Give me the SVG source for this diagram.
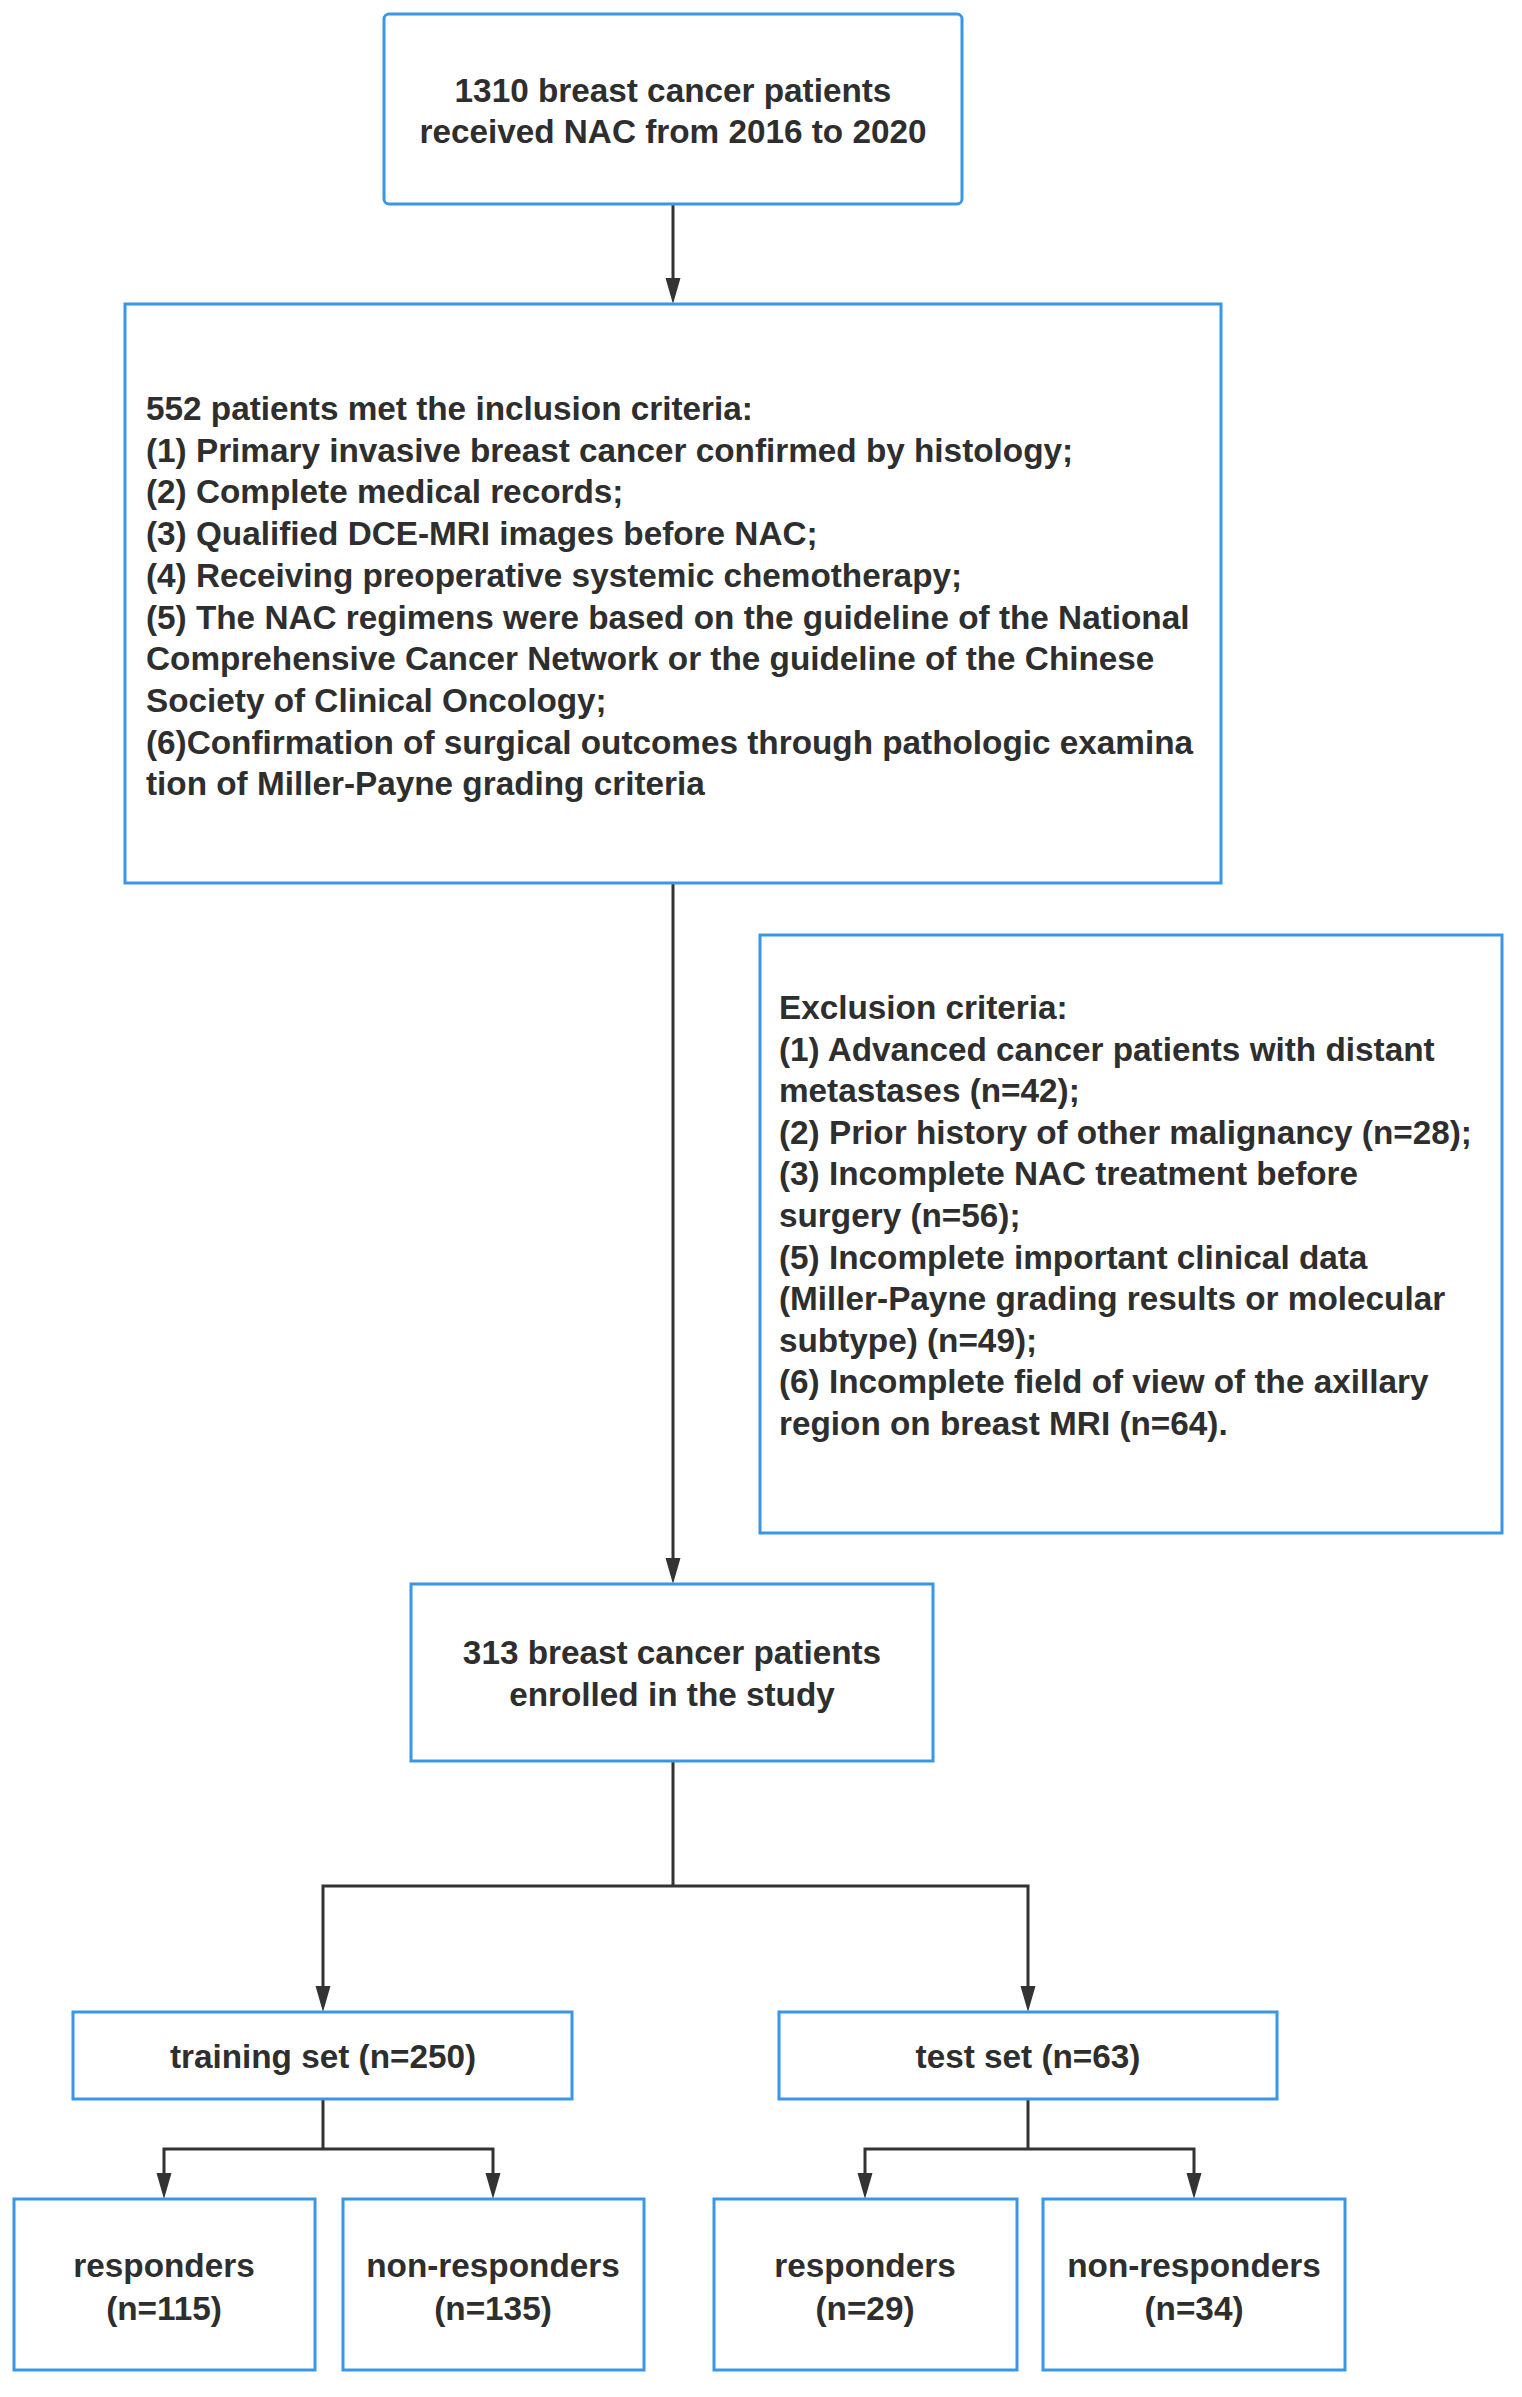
<svg xmlns="http://www.w3.org/2000/svg" width="1522" height="2397" viewBox="0 0 1522 2397">
<defs>
<style>
.box{fill:#fff;stroke:#3a97e6;stroke-width:3}
.t{font-family:"Liberation Sans",Arial,sans-serif;font-size:33.3px;font-weight:bold;fill:#2e2e2e}
.c{text-anchor:middle}
.ln{fill:none;stroke:#333;stroke-width:3}
.ar{fill:#333}
</style>
</defs>
<rect width="1522" height="2397" fill="#fff"/>

<g id="connectors">
<line class="ln" x1="673" y1="204" x2="673" y2="280"/>
<path class="ar" d="M665.5,278 L680.5,278 L673,304 Z"/>
<line class="ln" x1="673" y1="883" x2="673" y2="1560"/>
<path class="ar" d="M665.5,1558 L680.5,1558 L673,1584 Z"/>
<polyline class="ln" points="673,1761 673,1886"/>
<polyline class="ln" points="323,1988 323,1886 1028,1886 1028,1988"/>
<path class="ar" d="M315.5,1986 L330.5,1986 L323,2012 Z"/>
<path class="ar" d="M1020.5,1986 L1035.5,1986 L1028,2012 Z"/>
<line class="ln" x1="323" y1="2099" x2="323" y2="2149"/>
<polyline class="ln" points="164,2175 164,2149 493,2149 493,2175"/>
<path class="ar" d="M156.5,2173 L171.5,2173 L164,2199 Z"/>
<path class="ar" d="M485.5,2173 L500.5,2173 L493,2199 Z"/>
<line class="ln" x1="1028" y1="2099" x2="1028" y2="2149"/>
<polyline class="ln" points="865,2175 865,2149 1194,2149 1194,2175"/>
<path class="ar" d="M857.5,2173 L872.5,2173 L865,2199 Z"/>
<path class="ar" d="M1186.5,2173 L1201.5,2173 L1194,2199 Z"/>
</g>

<g id="start">
<rect class="box" x="384" y="14" width="578" height="190" rx="5"/>
<text class="t c" x="673" y="102">1310 breast cancer patients</text>
<text class="t c" x="673" y="143">received NAC from 2016 to 2020</text>
</g>

<g id="inclusion">
<rect class="box" x="125" y="304" width="1096" height="579"/>
<text class="t" x="146" y="420">552 patients met the inclusion criteria:</text>
<text class="t" x="146" y="461.7">(1) Primary invasive breast cancer confirmed by histology;</text>
<text class="t" x="146" y="503.4">(2) Complete medical records;</text>
<text class="t" x="146" y="545">(3) Qualified DCE-MRI images before NAC;</text>
<text class="t" x="146" y="586.8">(4) Receiving preoperative systemic chemotherapy;</text>
<text class="t" x="146" y="628.5">(5) The NAC regimens were based on the guideline of the National</text>
<text class="t" x="146" y="670.2">Comprehensive Cancer Network or the guideline of the Chinese</text>
<text class="t" x="146" y="711.9">Society of Clinical Oncology;</text>
<text class="t" x="146" y="753.6">(6)Confirmation of surgical outcomes through pathologic examina</text>
<text class="t" x="146" y="795.3">tion of Miller-Payne grading criteria</text>
</g>

<g id="exclusion">
<rect class="box" x="760" y="935" width="742" height="598"/>
<text class="t" x="779" y="1019">Exclusion criteria:</text>
<text class="t" x="779" y="1060.6">(1) Advanced cancer patients with distant</text>
<text class="t" x="779" y="1102.2">metastases (n=42);</text>
<text class="t" x="779" y="1143.8">(2) Prior history of other malignancy (n=28);</text>
<text class="t" x="779" y="1185.4">(3) Incomplete NAC treatment before</text>
<text class="t" x="779" y="1227">surgery (n=56);</text>
<text class="t" x="779" y="1268.6">(5) Incomplete important clinical data</text>
<text class="t" x="779" y="1310.2">(Miller-Payne grading results or molecular</text>
<text class="t" x="779" y="1351.8">subtype) (n=49);</text>
<text class="t" x="779" y="1393.4">(6) Incomplete field of view of the axillary</text>
<text class="t" x="779" y="1435">region on breast MRI (n=64).</text>
</g>

<g id="enrolled">
<rect class="box" x="411" y="1584" width="522" height="177"/>
<text class="t c" x="672" y="1664">313 breast cancer patients</text>
<text class="t c" x="672" y="1706">enrolled in the study</text>
</g>

<g id="training">
<rect class="box" x="73" y="2012" width="499" height="87"/>
<text class="t c" x="323" y="2068">training set (n=250)</text>
</g>

<g id="test">
<rect class="box" x="779" y="2012" width="498" height="87"/>
<text class="t c" x="1028" y="2068">test set (n=63)</text>
</g>

<g id="train-responders">
<rect class="box" x="14" y="2199" width="301" height="171"/>
<text class="t c" x="164" y="2277">responders</text>
<text class="t c" x="164" y="2320">(n=115)</text>
</g>

<g id="train-nonresponders">
<rect class="box" x="343" y="2199" width="301" height="171"/>
<text class="t c" x="493" y="2277">non-responders</text>
<text class="t c" x="493" y="2320">(n=135)</text>
</g>

<g id="test-responders">
<rect class="box" x="714" y="2199" width="303" height="171"/>
<text class="t c" x="865" y="2277">responders</text>
<text class="t c" x="865" y="2320">(n=29)</text>
</g>

<g id="test-nonresponders">
<rect class="box" x="1043" y="2199" width="302" height="171"/>
<text class="t c" x="1194" y="2277">non-responders</text>
<text class="t c" x="1194" y="2320">(n=34)</text>
</g>
</svg>
